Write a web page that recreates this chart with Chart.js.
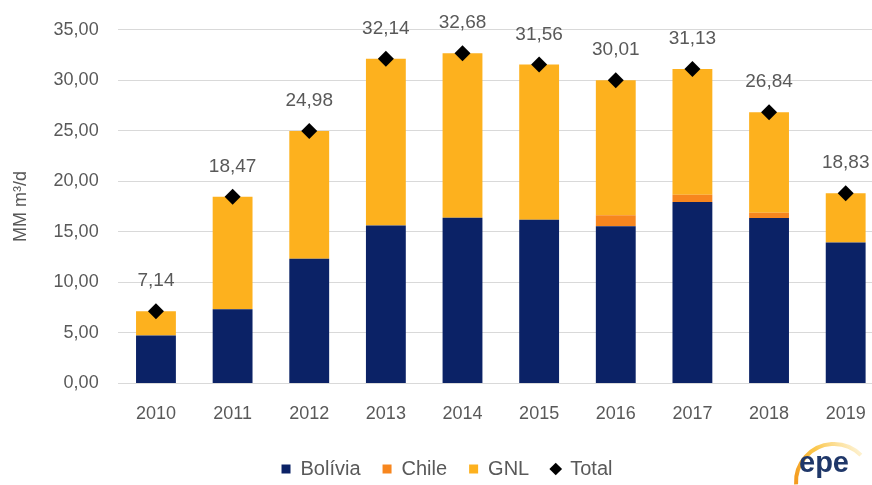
<!DOCTYPE html>
<html>
<head>
<meta charset="utf-8">
<title>Importação de gás natural</title>
<script src="https://cdn.jsdelivr.net/npm/chart.js@4.4.1/dist/chart.umd.min.js"></script>
<style>
  html, body { margin: 0; padding: 0; background: #fff; overflow: hidden; }
  #wrap { width: 884px; height: 485px; }
</style>
</head>
<body>
<div id="wrap"><canvas id="myChart" width="884" height="485"></canvas></div>
<script>
const anos = ["2010", "2011", "2012", "2013", "2014", "2015", "2016", "2017", "2018", "2019"];
const bolivia = [4.75, 7.33, 12.33, 15.62, 16.40, 16.20, 15.55, 17.95, 16.37, 13.94];
const chile   = [0, 0, 0, 0, 0, 0, 1.09, 0.72, 0.53, 0];
const gnl     = [2.39, 11.14, 12.65, 16.52, 16.28, 15.36, 13.37, 12.46, 9.94, 4.89];
const total   = [7.14, 18.47, 24.98, 32.14, 32.68, 31.56, 30.01, 31.13, 26.84, 18.83];

const CINZA = "#595959";
const FONTE = "'Liberation Sans', Arial, sans-serif";

function virgula(v) {
    return Number(v).toFixed(2).replace(".", ",");
}

// rótulos do total acima dos losangos
const rotulosTotal = {
    id: "rotulosTotal",
    afterDatasetsDraw(chart) {
        const ctx = chart.ctx;
        const meta = chart.getDatasetMeta(3);
        ctx.save();
        ctx.font = "19px " + FONTE;
        ctx.fillStyle = CINZA;
        ctx.textAlign = "center";
        ctx.textBaseline = "middle";
        meta.data.forEach(function (pt, i) {
            ctx.fillText(virgula(total[i]), pt.x, pt.y - 30);
        });
        ctx.restore();
    }
};

// logotipo epe no canto
const logo = {
    id: "logo",
    afterDraw(chart) {
        const ctx = chart.ctx;
        ctx.save();
        const g = ctx.createLinearGradient(795, 480, 850, 440);
        g.addColorStop(0, "#f39a1e");
        g.addColorStop(0.5, "#fbc64a");
        g.addColorStop(1, "#fdf0cc");
        ctx.strokeStyle = g;
        ctx.lineWidth = 4;
        ctx.beginPath();
        ctx.arc(834, 482, 38, Math.PI * 0.98, Math.PI * 1.75);
        ctx.stroke();
        ctx.font = "bold 29px " + FONTE;
        ctx.fillStyle = "#1f3769";
        ctx.textAlign = "left";
        ctx.textBaseline = "alphabetic";
        ctx.fillText("epe", 799, 472);
        ctx.restore();
    }
};

const ctx = document.getElementById("myChart").getContext("2d");
const chart = new Chart(ctx, {
    type: "bar",
    data: {
        labels: anos,
        datasets: [
            {
                label: "Bolívia",
                data: bolivia,
                backgroundColor: "#0b2266",
                pointStyle: "rect",
                stack: "paises"
            },
            {
                label: "Chile",
                data: chile,
                backgroundColor: "#f7861e",
                pointStyle: "rect",
                stack: "paises"
            },
            {
                label: "GNL",
                data: gnl,
                backgroundColor: "#fdb11e",
                pointStyle: "rect",
                stack: "paises"
            },
            {
                type: "line",
                label: "Total",
                data: total,
                showLine: false,
                pointStyle: "rectRot",
                pointRadius: 8,
                pointHoverRadius: 8,
                backgroundColor: "#000",
                borderColor: "#000",
                borderWidth: 0,
                stack: "total",
                order: -1
            }
        ]
    },
    options: {
        responsive: false,
        animation: false,
        layout: { autoPadding: false, padding: { left: 10, right: 0, top: 17, bottom: -4 } },
        datasets: {
            bar: { categoryPercentage: 1, barPercentage: 0.52 }
        },
        scales: {
            x: {
                stacked: true,
                grid: { display: false },
                border: { display: false },
                ticks: {
                    color: CINZA,
                    font: { family: FONTE, size: 18 },
                    padding: 12
                }
            },
            y: {
                stacked: true,
                min: 0,
                max: 35,
                border: { display: false },
                grid: { color: "#d9d9d9", drawTicks: false },
                ticks: {
                    stepSize: 5,
                    color: CINZA,
                    font: { family: FONTE, size: 18 },
                    padding: 19,
                    callback: function (v) { return virgula(v); }
                },
                title: {
                    display: true,
                    text: "MM m³/d",
                    color: CINZA,
                    font: { family: FONTE, size: 18 },
                    padding: { top: 0, bottom: 3 }
                }
            }
        },
        plugins: {
            legend: {
                position: "bottom",
                labels: {
                    usePointStyle: true,
                    boxWidth: 9,
                    boxHeight: 9,
                    color: CINZA,
                    font: { family: FONTE, size: 20 },
                    padding: 22,
                    sort: function (a, b) { return a.datasetIndex - b.datasetIndex; }
                }
            },
            tooltip: { enabled: false }
        }
    },
    plugins: [rotulosTotal, logo]
});
</script>
</body>
</html>
